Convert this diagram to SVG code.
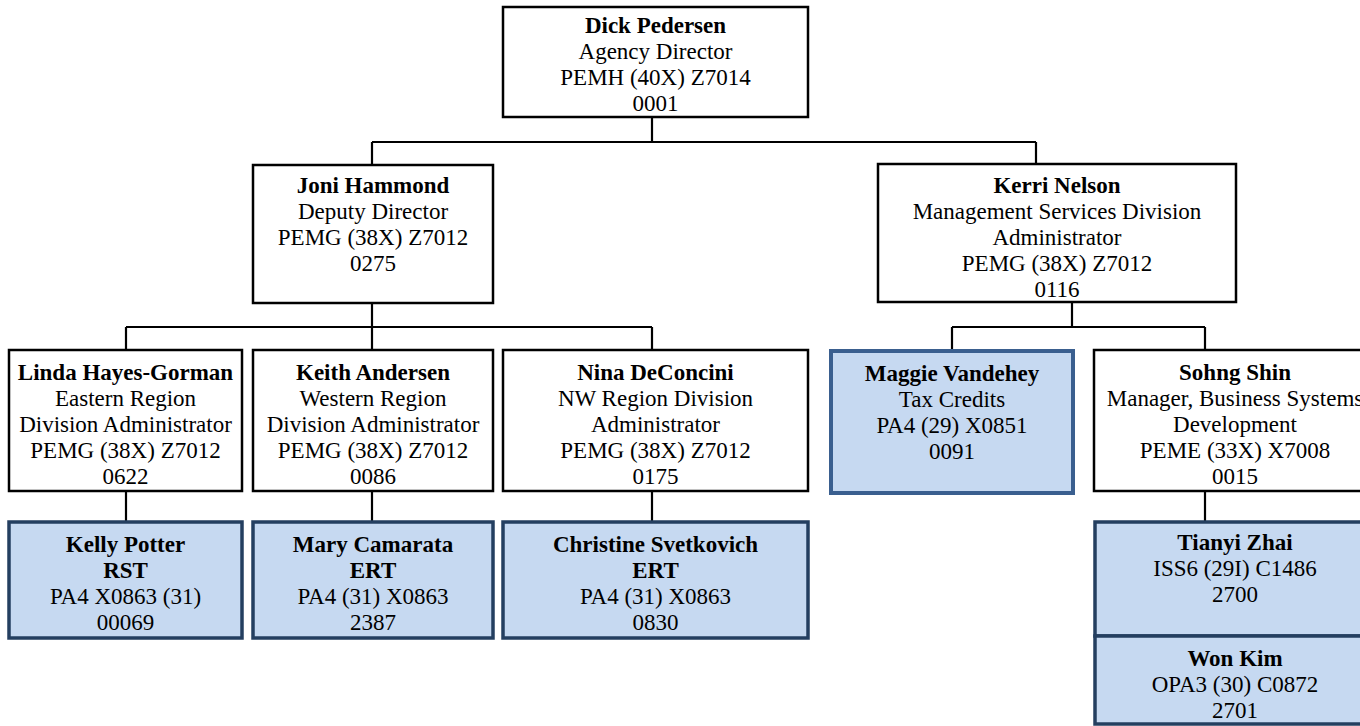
<svg xmlns="http://www.w3.org/2000/svg" width="1360" height="726" viewBox="0 0 1360 726">
<style>
text{font-family:'Liberation Serif','Tinos','Times New Roman','DejaVu Serif',serif;font-size:23px;fill:#000;text-anchor:middle}
.b{font-weight:bold}
.w{fill:#fff;stroke:#000;stroke-width:2.5}
.p{fill:#C6D9F1;stroke:#243F60;stroke-width:3.5}
.m{fill:#C6D9F1;stroke:#3A5F8F;stroke-width:4}
#connectors path{fill:none;stroke:#000;stroke-width:2.2}
</style>
<rect width="1360" height="726" fill="#fff"/>
<g id="connectors">
<path d="M652 117V142M372 142H1036M372 142V165M1036 142V164"/>
<path d="M372 303V327M126 327H652M126 327V350M372 327V350M652 327V350"/>
<path d="M1072 302V327M952 327H1205M952 327V350M1205 327V350"/>
<path d="M126 491V522M372 491V522M652 491V522M1205 491V522"/>
</g>
<g font-family="Liberation Serif, serif">
<g id="dick">
<rect class="w" x="503" y="7" width="305" height="110"/>
<text x="655.5" y="33" class="b">Dick Pedersen</text>
<text x="655.5" y="59">Agency Director</text>
<text x="655.5" y="85">PEMH (40X) Z7014</text>
<text x="655.5" y="111">0001</text>
</g>
<g id="joni">
<rect class="w" x="253" y="165" width="240" height="138"/>
<text x="373" y="193" class="b">Joni Hammond</text>
<text x="373" y="219">Deputy Director</text>
<text x="373" y="245">PEMG (38X) Z7012</text>
<text x="373" y="271">0275</text>
</g>
<g id="kerri">
<rect class="w" x="878" y="164" width="358" height="138"/>
<text x="1057" y="193" class="b">Kerri Nelson</text>
<text x="1057" y="219">Management Services Division</text>
<text x="1057" y="245">Administrator</text>
<text x="1057" y="271">PEMG (38X) Z7012</text>
<text x="1057" y="297">0116</text>
</g>
<g id="linda">
<rect class="w" x="9" y="350" width="233" height="141"/>
<text x="125.5" y="380" class="b">Linda Hayes-Gorman</text>
<text x="125.5" y="406">Eastern Region</text>
<text x="125.5" y="432">Division Administrator</text>
<text x="125.5" y="458">PEMG (38X) Z7012</text>
<text x="125.5" y="484">0622</text>
</g>
<g id="keith">
<rect class="w" x="253" y="350" width="240" height="141"/>
<text x="373" y="380" class="b">Keith Andersen</text>
<text x="373" y="406">Western Region</text>
<text x="373" y="432">Division Administrator</text>
<text x="373" y="458">PEMG (38X) Z7012</text>
<text x="373" y="484">0086</text>
</g>
<g id="nina">
<rect class="w" x="503" y="350" width="305" height="141"/>
<text x="655.5" y="380" class="b">Nina DeConcini</text>
<text x="655.5" y="406">NW Region Division</text>
<text x="655.5" y="432">Administrator</text>
<text x="655.5" y="458">PEMG (38X) Z7012</text>
<text x="655.5" y="484">0175</text>
</g>
<g id="maggie">
<rect class="m" x="831" y="351" width="242" height="142"/>
<text x="952" y="381" class="b">Maggie Vandehey</text>
<text x="952" y="407">Tax Credits</text>
<text x="952" y="433">PA4 (29) X0851</text>
<text x="952" y="459">0091</text>
</g>
<g id="sohng">
<rect class="w" x="1094" y="350" width="282" height="141"/>
<text x="1235" y="380" class="b">Sohng Shin</text>
<text x="1235" y="406">Manager, Business Systems</text>
<text x="1235" y="432">Development</text>
<text x="1235" y="458">PEME (33X) X7008</text>
<text x="1235" y="484">0015</text>
</g>
<g id="kelly">
<rect class="p" x="9" y="522" width="233" height="116"/>
<text x="125.5" y="552" class="b">Kelly Potter</text>
<text x="125.5" y="578" class="b">RST</text>
<text x="125.5" y="604">PA4 X0863 (31)</text>
<text x="125.5" y="630">00069</text>
</g>
<g id="mary">
<rect class="p" x="253" y="522" width="240" height="116"/>
<text x="373" y="552" class="b">Mary Camarata</text>
<text x="373" y="578" class="b">ERT</text>
<text x="373" y="604">PA4 (31) X0863</text>
<text x="373" y="630">2387</text>
</g>
<g id="christine">
<rect class="p" x="503" y="522" width="305" height="116"/>
<text x="655.5" y="552" class="b">Christine Svetkovich</text>
<text x="655.5" y="578" class="b">ERT</text>
<text x="655.5" y="604">PA4 (31) X0863</text>
<text x="655.5" y="630">0830</text>
</g>
<g id="tianyi">
<rect class="p" x="1095" y="522" width="282" height="114"/>
<text x="1235" y="550" class="b">Tianyi Zhai</text>
<text x="1235" y="576">ISS6 (29I) C1486</text>
<text x="1235" y="602">2700</text>
</g>
<g id="won">
<rect class="p" x="1095" y="636" width="282" height="88"/>
<text x="1235" y="666" class="b">Won Kim</text>
<text x="1235" y="692">OPA3 (30) C0872</text>
<text x="1235" y="718">2701</text>
</g>
</g>
</svg>
